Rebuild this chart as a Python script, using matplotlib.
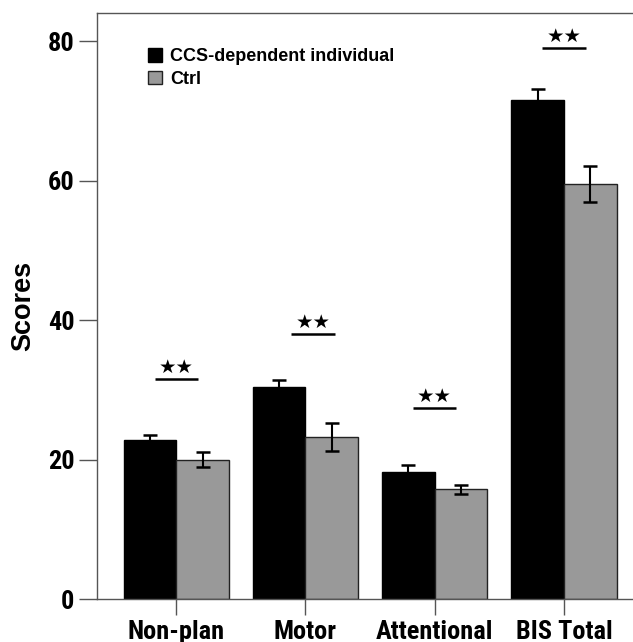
import matplotlib
matplotlib.use("Agg")
import matplotlib.pyplot as plt
import numpy as np

categories = ["Non-plan", "Motor", "Attentional", "BIS Total"]
ccs_means = [22.85, 30.5, 18.2, 71.6]
ccs_errs = [0.72, 0.95, 1.05, 1.6]
ctrl_means = [20.0, 23.25, 15.75, 59.55]
ctrl_errs = [1.05, 2.0, 0.65, 2.55]
series_labels = ["CCS-dependent individual", "Ctrl"]
sig_levels = [31.6, 38.0, 27.4, 79.1]
sig_offsets = [0.0, 0.058, 0.0, 0.0]
sig_text = "★★"
yticks = [0, 20, 40, 60, 80]

W, H = 633, 642
fig = plt.figure(figsize=(W / 100, H / 100), dpi=100)
ax = fig.add_axes([96.7 / W, (H - 599.3) / H, (643.5 - 96.7) / W, (599.3 - 12.7) / H])

tick_font = ["Roboto Condensed", "Liberation Sans Narrow", "Liberation Sans", "DejaVu Sans"]
main_font = ["Liberation Sans", "DejaVu Sans"]

x = np.arange(len(categories))
bw = 0.408
ax.bar(x - bw / 2, ccs_means, bw, color="black", edgecolor="black", linewidth=1.0,
       label=series_labels[0], zorder=2)
ax.bar(x + bw / 2, ctrl_means, bw, color="#999999", edgecolor="#222222", linewidth=1.0,
       label=series_labels[1], zorder=2)
ax.errorbar(x - bw / 2, ccs_means, yerr=ccs_errs, fmt="none", ecolor="black",
            elinewidth=1.5, capsize=4.8, capthick=1.8, zorder=3)
ax.errorbar(x + bw / 2, ctrl_means, yerr=ctrl_errs, fmt="none", ecolor="black",
            elinewidth=1.5, capsize=4.8, capthick=1.8, zorder=3)

for xi, lvl, off in zip(x, sig_levels, sig_offsets):
    cx = xi + off
    ax.plot([cx - 0.168, cx + 0.168], [lvl, lvl], color="black", lw=1.8,
            solid_capstyle="butt", zorder=3)
    ax.text(cx, lvl + 0.85, sig_text, ha="center", va="baseline", fontsize=14,
            family=["DejaVu Sans"], color="black")

ax.set_xlim(-0.616, 3.616)
ax.set_ylim(0, 84.1)
ax.set_yticks(yticks)
ax.set_yticklabels([str(v) for v in yticks])
ax.set_xticks(x)
ax.set_xticklabels(categories)

spine_col = "#555555"
for s in ["left", "bottom", "top"]:
    ax.spines[s].set_color(spine_col)
    ax.spines[s].set_linewidth(1.0)
ax.spines["right"].set_visible(False)

ax.tick_params(axis="y", direction="out", length=13, width=1.0, color=spine_col, pad=3)
ax.tick_params(axis="x", direction="out", length=11.5, width=1.0, color=spine_col, pad=3.5)
for lab in ax.get_xticklabels() + ax.get_yticklabels():
    lab.set_family(tick_font)
    lab.set_fontweight("bold")
    lab.set_fontsize(19)

fig.text(23 / W, 1 - 306 / H, "Scores", rotation=90, ha="center", va="center",
         fontsize=19.5, fontweight="bold", family=main_font)

leg = ax.legend(loc="upper left", bbox_to_anchor=((148 - 96.7) / 546.8, (599.3 - 48) / 586.6),
                frameon=False, borderpad=0, borderaxespad=0, handlelength=0.78,
                handleheight=0.78, handletextpad=0.43, labelspacing=0.32,
                prop={"family": main_font, "weight": "bold", "size": 13})

fig.savefig("out.png", dpi=100)
